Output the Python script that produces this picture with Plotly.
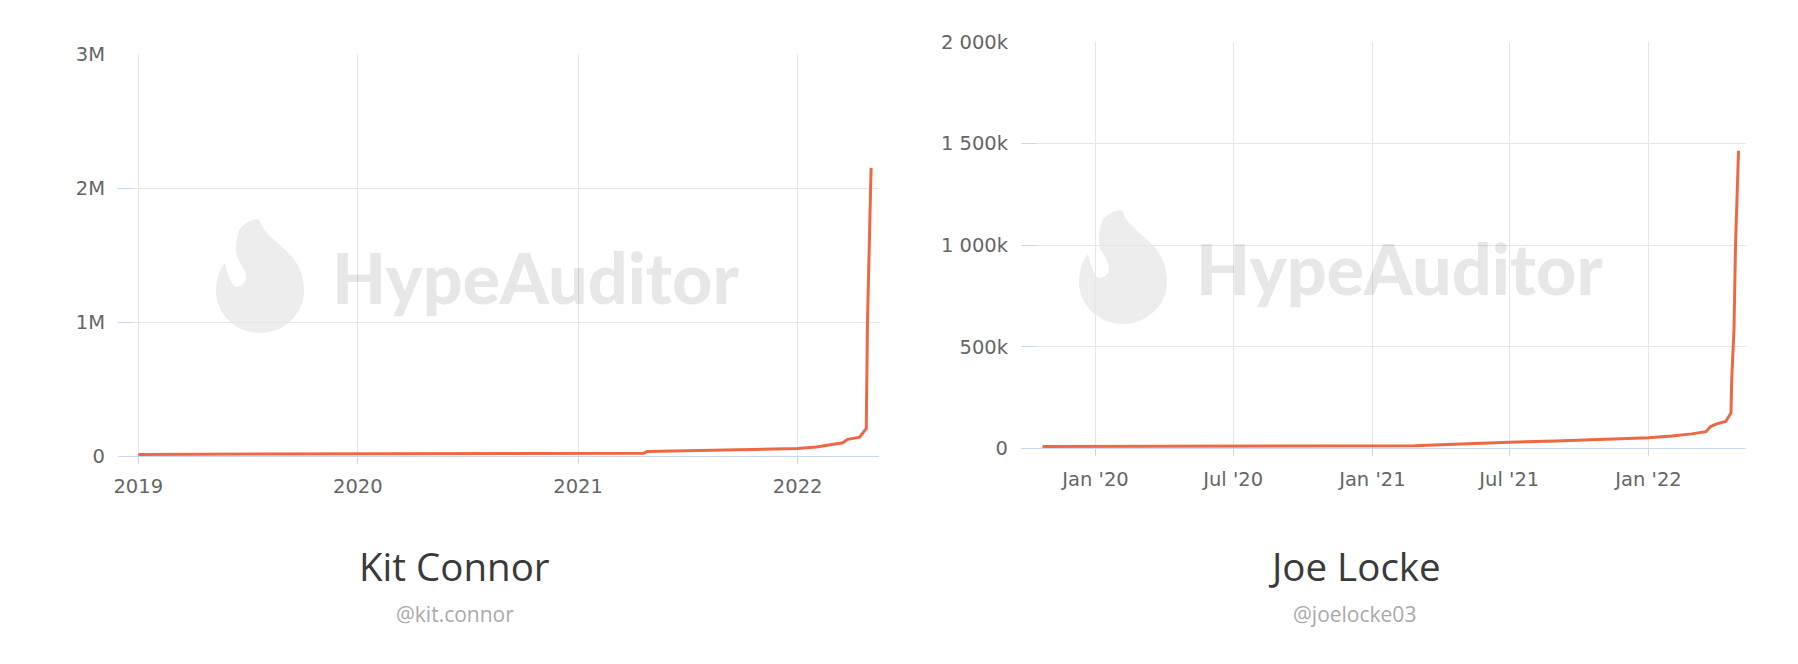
import plotly.graph_objects as go

# ---------------- data ----------------
kit_dates = ["2019-01-01", "2019-04-01", "2019-07-01", "2019-10-01", "2020-01-01",
             "2020-04-01", "2020-07-01", "2020-10-01", "2021-01-01", "2021-04-20",
             "2021-04-26", "2021-06-01", "2021-08-01", "2021-10-01", "2021-12-01",
             "2022-01-01", "2022-02-01", "2022-02-28", "2022-03-17", "2022-03-25",
             "2022-04-14", "2022-04-19", "2022-04-25", "2022-04-27", "2022-05-03"]
kit_followers = [12000, 12500, 13500, 15000, 16000,
                 17000, 18000, 19000, 20000, 21000,
                 33000, 37000, 42000, 46000, 52000,
                 56000, 68000, 85000, 99000, 124000,
                 140000, 171000, 206000, 1000000, 2150000]

joe_dates = ["2019-10-23", "2020-01-01", "2020-07-01", "2021-01-01", "2021-02-26",
             "2021-04-01", "2021-05-01", "2021-06-01", "2021-07-01", "2021-09-01",
             "2021-11-23", "2022-01-01", "2022-02-01", "2022-02-27", "2022-03-18",
             "2022-03-24", "2022-04-01", "2022-04-13", "2022-04-20", "2022-04-21",
             "2022-04-24", "2022-04-26", "2022-04-30"]
joe_followers = [9000, 9500, 10000, 11000, 12000,
                 17000, 22000, 27000, 30000, 36000,
                 46000, 52000, 61000, 71000, 82000,
                 107000, 120000, 132000, 173000, 338000,
                 586000, 998000, 1465000]

kit_ytickvals = [0, 1000000, 2000000, 3000000]
kit_yticktext = ["0", "1M", "2M", "3M"]
kit_xtickvals = ["2019-01-01", "2020-01-01", "2021-01-01", "2022-01-01"]
kit_xticktext = ["2019", "2020", "2021", "2022"]

joe_ytickvals = [0, 500000, 1000000, 1500000, 2000000]
joe_yticktext = ["0", "500k", "1 000k", "1 500k", "2 000k"]
joe_xtickvals = ["2020-01-01", "2020-07-01", "2021-01-01", "2021-07-01", "2022-01-01"]
joe_xticktext = ["Jan '20", "Jul '20", "Jan '21", "Jul '21", "Jan '22"]

names = ["Kit Connor", "Joe Locke"]
handles = ["@kit.connor", "@joelocke03"]

# ---------------- layout helpers ----------------
# the page body keeps its default 8px margin: the figure starts at (8, 8)
PAGE_W, PAGE_H = 1798, 664
OFF = 8
W, H = PAGE_W - OFF, PAGE_H - OFF
def px(x):
    return (x - OFF) / W
def py(y):
    return 1 - (y - OFF) / H

LINE = "#ee6843"
GRID = "#e6e6e6"
AXIS = "#ccd6eb"
TICKFONT = dict(family="DejaVu Sans", size=19.5, color="#666666")

fig = go.Figure()
fig.add_trace(go.Scatter(x=kit_dates, y=kit_followers, mode="lines",
                         line=dict(color=LINE, width=3), xaxis="x", yaxis="y",
                         hoverinfo="skip", showlegend=False))
fig.add_trace(go.Scatter(x=joe_dates, y=joe_followers, mode="lines",
                         line=dict(color=LINE, width=3), xaxis="x2", yaxis="y2",
                         hoverinfo="skip", showlegend=False))

def xax(domain, rng, tv, tt, anchor):
    return dict(domain=domain, range=rng, type="date", anchor=anchor,
                tickmode="array", tickvals=tv, ticktext=tt, automargin=False,
                showgrid=True, gridcolor=GRID, gridwidth=1,
                showline=True, linecolor=AXIS, linewidth=1,
                ticks="outside", ticklen=7, tickcolor=AXIS, tickwidth=1,
                tickfont=TICKFONT, zeroline=False, fixedrange=True,
                ticklabelstandoff=6)

def yax(domain, rng, tv, tt, anchor):
    return dict(domain=domain, range=rng, anchor=anchor, automargin=False,
                tickmode="array", tickvals=tv, ticktext=tt,
                showgrid=True, gridcolor=GRID, gridwidth=1,
                showline=False, zeroline=False,
                ticks="inside", ticklen=15, tickcolor=AXIS, tickwidth=1,
                tickfont=TICKFONT, fixedrange=True, ticklabelstandoff=12)

fig.update_layout(
    width=W, height=H, margin=dict(l=0, r=0, t=0, b=0, pad=0, autoexpand=False),
    paper_bgcolor="white", plot_bgcolor="white", showlegend=False,
    xaxis=xax([px(118), px(878.5)], ["2018-11-28 08:00", "2022-05-15 08:00"],
              kit_xtickvals, kit_xticktext, "y"),
    yaxis=yax([py(456), py(54)], [0, 3000000], kit_ytickvals, kit_yticktext, "x"),
    xaxis2=xax([px(1021), px(1746)], ["2019-09-24 12:00", "2022-05-09 21:00"],
               joe_xtickvals, joe_xticktext, "y2"),
    yaxis2=yax([py(448.3), py(42)], [0, 2000000], joe_ytickvals, joe_yticktext, "x2"),
)

# ---------------- watermark ----------------
FLAME = [("M", [(-1, -72)]),
         ("C", [(7, -46), (44, -42), (44, 0)]),
         ("C", [(44, 23), (24, 42), (0, 42)]),
         ("C", [(-24, 42), (-44, 23), (-44, 0)]),
         ("C", [(-44, -14), (-39, -23), (-35, -28)]),
         ("C", [(-32, -14), (-27, -4), (-24, -4)]),
         ("C", [(-19, -4), (-14, -8), (-14, -13)]),
         ("C", [(-14, -25), (-24, -29), (-24, -41)]),
         ("C", [(-24, -51), (-22, -57), (-21, -61)]),
         ("C", [(-16, -68), (-8, -72), (-1, -72)])]

def flame_path(cx, cy):
    parts = []
    for cmd, pts in FLAME:
        parts.append(cmd + " " + " ".join(f"{px(cx + dx):.5f},{py(cy + dy):.5f}" for dx, dy in pts))
    return " ".join(parts) + " Z"

for (cx, cy), (tx, ty) in [((260, 291), (535, 277)), ((1123, 282), (1399, 268))]:
    fig.add_shape(type="path", xref="paper", yref="paper", path=flame_path(cx, cy),
                  fillcolor="#ededed", line=dict(width=0), layer="below")
    fig.add_annotation(x=px(tx), y=py(ty), xref="paper", yref="paper",
                       text="HypeAuditor", showarrow=False,
                       xanchor="center", yanchor="middle",
                       font=dict(family="Lato", size=70, weight=900,
                                 color="rgba(0,0,0,0.095)"))

# ---------------- titles ----------------
for cx, name, handle in [(454.7, names[0], handles[0]), (1354, names[1], handles[1])]:
    fig.add_annotation(x=px(cx), y=py(566.3), xref="paper", yref="paper",
                       text=name, showarrow=False, xanchor="center", yanchor="middle",
                       font=dict(family="Open Sans", size=38.5, color="#3a3a3a"))
    fig.add_annotation(x=px(cx), y=py(613.5), xref="paper", yref="paper",
                       text=handle, showarrow=False, xanchor="center", yanchor="middle",
                       font=dict(family="Open Sans", size=21, color="#aaaaaa"))

fig.write_html("out.html", config={"displayModeBar": False, "staticPlot": True})
